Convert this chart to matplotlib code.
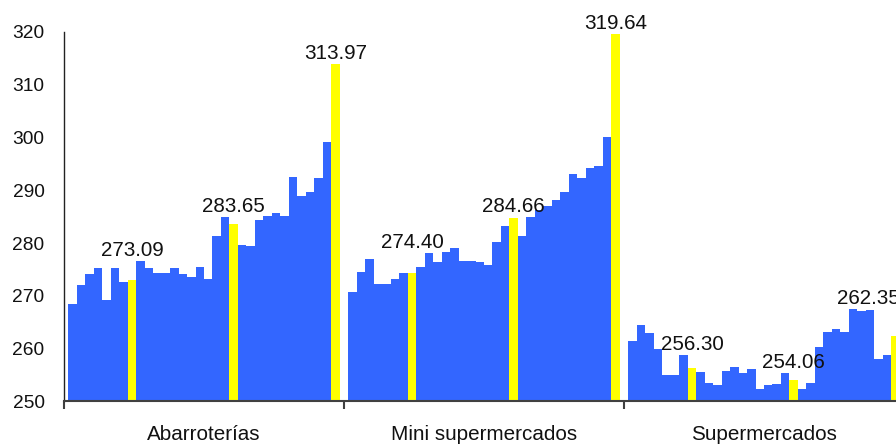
import matplotlib
matplotlib.use("Agg")
import matplotlib.pyplot as plt
import numpy as np

plt.rcParams['font.family'] = ['Liberation Sans', 'DejaVu Sans']

# ---------------- data ----------------
categories = ['Abarroterías', 'Mini supermercados', 'Supermercados']

# monthly values (blue) per period, and period averages (yellow)
abarr_p1 = [268.4, 272.0, 274.2, 275.2, 269.3, 275.2, 272.7]
abarr_p2 = [276.7, 275.2, 274.4, 274.4, 275.2, 274.2, 273.5, 275.4, 273.1, 281.4, 285.0]
abarr_p3 = [279.7, 279.5, 284.4, 285.2, 285.7, 285.2, 292.5, 288.9, 289.7, 292.3, 299.1]
abarr_avg = [273.09, 283.65, 313.97]

mini_p1 = [270.8, 274.6, 276.9, 272.2, 272.2, 273.1, 274.4]
mini_p2 = [275.4, 278.2, 276.5, 278.4, 279.1, 276.7, 276.7, 276.5, 275.9, 280.3, 283.3]
mini_p3 = [281.4, 285.0, 286.3, 287.1, 288.2, 289.7, 293.1, 292.3, 294.2, 294.6, 300.1]
mini_avg = [274.40, 284.66, 319.64]

super_p1 = [261.4, 264.4, 262.9, 259.9, 255.0, 255.0, 258.75]
super_p2 = [255.5, 253.5, 253.1, 255.7, 256.5, 255.4, 256.1, 252.3, 253.1, 253.3, 255.4]
super_p3 = [252.3, 253.5, 260.3, 263.1, 263.7, 263.1, 267.6, 267.1, 267.4, 258.0, 258.75]
super_avg = [256.30, 254.06, 262.35]

yticks = [250, 260, 270, 280, 290, 300, 310, 320]

groups = [
    ([abarr_p1, abarr_p2, abarr_p3], abarr_avg),
    ([mini_p1, mini_p2, mini_p3], mini_avg),
    ([super_p1, super_p2, super_p3], super_avg),
]

BLUE = '#3366FF'
YELLOW = '#FFFF00'
AXIS_GRAY = '#404040'

# ---------------- figure ----------------
W, H = 896, 444
fig = plt.figure(figsize=(W / 100, H / 100), dpi=100)
ax = fig.add_axes([64 / W, (H - 401.4) / H, 840 / W, (401.4 - 32) / H])

all_x, all_v, all_c = [], [], []
labels = []  # (x, value)
for g, (periods, avgs) in enumerate(groups):
    seq, cols = [], []
    avg_idx = []
    for p, a in zip(periods, avgs):
        seq += p
        cols += [BLUE] * len(p)
        avg_idx.append(len(seq))
        seq.append(a)
        cols.append(YELLOW)
    n = len(seq)
    slots = n + 1
    xs = g + (np.arange(n) - (n - 1) / 2) / slots
    all_x += list(xs)
    all_v += seq
    all_c += cols
    for k, a in zip(avg_idx, avgs):
        labels.append((xs[k], a))

bar_w = 1 / 33
all_x = np.array(all_x)
all_v = np.array(all_v)
ax.bar(all_x, all_v, width=bar_w, color=all_c, linewidth=0, zorder=2)

ax.set_xlim(-0.5, 2.5)
ax.set_ylim(250, 320)
ax.set_yticks(yticks)
ax.tick_params(axis='y', length=0, pad=14, labelsize=13.8, colors='#111111')

ax.set_xticks([0, 1, 2])
ax.set_xticklabels(categories)
ax.tick_params(axis='x', which='major', length=0, pad=17, labelsize=14.9, colors='#111111')
ax.set_xticks([-0.5, 0.5, 1.5, 2.5], minor=True)
ax.tick_params(axis='x', which='minor', length=6, width=1.5, color=AXIS_GRAY)

for s in ['top', 'right']:
    ax.spines[s].set_visible(False)
ax.spines['left'].set_color('#222222')
ax.spines['left'].set_linewidth(1.0)
ax.spines['bottom'].set_color(AXIS_GRAY)
ax.spines['bottom'].set_linewidth(1.5)
ax.spines['bottom'].set_zorder(3)

# ---------------- value labels ----------------
anns = []
for x, v in labels:
    a = ax.annotate(f"{v:.2f}", xy=(x, v), xytext=(0, 5), textcoords='offset pixels',
                    ha='center', va='baseline', fontsize=14.9, color='#111111',
                    annotation_clip=False, zorder=4)
    anns.append(a)

fig.canvas.draw()
renderer = fig.canvas.get_renderer()
inv = ax.transData.inverted()
px_per_unit = ax.transData.transform((1, 0))[0] - ax.transData.transform((0, 0))[0]
right_limit_px = W + 4
for a, (x, v) in zip(anns, labels):
    bb = a.get_window_extent(renderer)
    half = bb.width / 2 / px_per_unit
    right_limit = inv.transform((right_limit_px, 0))[0]
    cx = min(x, right_limit - half)
    window = np.abs(all_x - cx) <= 2.5 * bar_w
    top = max(v, all_v[window].max())
    a.xy = (cx, top)

fig.savefig("out.png", dpi=100)
